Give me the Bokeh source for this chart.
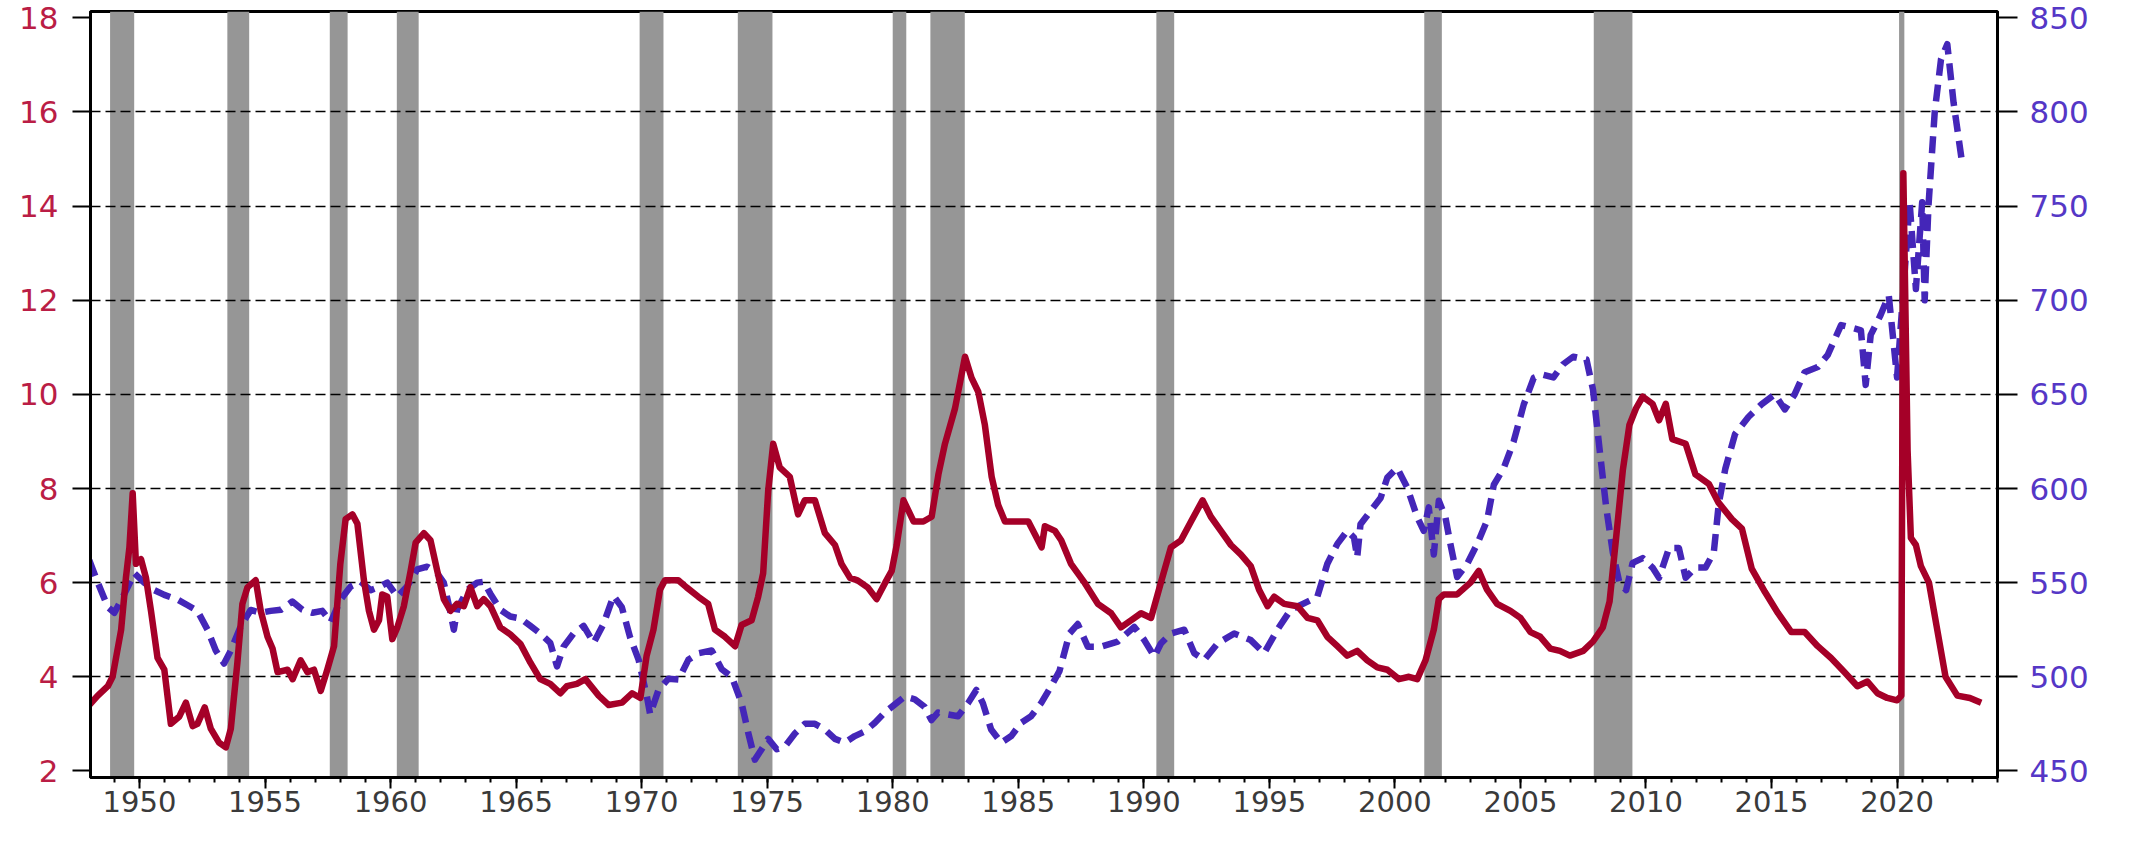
from bokeh.plotting import figure
from bokeh.models import Range1d, LinearAxis, FixedTicker, SingleIntervalTicker, BoxAnnotation
from bokeh.embed import file_html
from bokeh.resources import INLINE

# ---------------- data ----------------
left_ticks = [2, 4, 6, 8, 10, 12, 14, 16, 18]
right_ticks = [450, 500, 550, 600, 650, 700, 750, 800, 850]
grid_levels = [4, 6, 8, 10, 12, 14, 16]

rec_start = [1948.83, 1953.50, 1957.58, 1960.25, 1969.92, 1973.83, 1980.00, 1981.50,
             1990.50, 2001.17, 2007.92, 2020.08]
rec_end = [1949.79, 1954.37, 1958.29, 1961.12, 1970.87, 1975.21, 1980.54, 1982.87,
           1991.21, 2001.87, 2009.46, 2020.29]

unemp_year = [
    1948.00, 1948.34, 1948.74, 1948.93, 1949.27, 1949.46, 1949.60, 1949.73, 1949.86, 1950.06,
    1950.26, 1950.46, 1950.72, 1950.99, 1951.25, 1951.58, 1951.85, 1952.12, 1952.31, 1952.60,
    1952.84, 1953.17, 1953.44, 1953.64, 1953.90, 1954.10, 1954.30, 1954.63, 1954.83, 1955.10,
    1955.30, 1955.50, 1955.90, 1956.10, 1956.42, 1956.69, 1956.95, 1957.22, 1957.48, 1957.75,
    1958.00, 1958.21, 1958.48, 1958.68, 1958.94, 1959.14, 1959.34, 1959.54, 1959.67, 1959.87,
    1960.07, 1960.27, 1960.53, 1960.80, 1961.00, 1961.33, 1961.59, 1961.86, 1962.12, 1962.39,
    1962.65, 1962.92, 1963.18, 1963.45, 1963.71, 1963.98, 1964.37, 1964.77, 1965.17, 1965.57,
    1965.96, 1966.36, 1966.76, 1967.02, 1967.42, 1967.76, 1968.29, 1968.69, 1969.22, 1969.62,
    1969.95, 1970.20, 1970.47, 1970.73, 1970.93, 1971.46, 1971.79, 1972.26, 1972.65, 1972.92,
    1973.32, 1973.72, 1973.98, 1974.38, 1974.64, 1974.84, 1975.04, 1975.24, 1975.50, 1975.90,
    1976.23, 1976.50, 1976.90, 1977.30, 1977.70, 1977.96, 1978.30, 1978.60, 1979.00, 1979.36,
    1979.70, 1979.96, 1980.16, 1980.43, 1980.83, 1981.22, 1981.55, 1981.82, 1982.08, 1982.48,
    1982.88, 1983.14, 1983.41, 1983.67, 1983.94, 1984.20, 1984.47, 1985.00, 1985.40, 1985.93,
    1986.06, 1986.46, 1986.71, 1987.10, 1987.64, 1988.17, 1988.70, 1989.09, 1989.49, 1989.89,
    1990.29, 1990.68, 1991.08, 1991.48, 1991.88, 1992.34, 1992.67, 1993.07, 1993.47, 1993.86,
    1994.26, 1994.59, 1994.93, 1995.19, 1995.59, 1996.12, 1996.52, 1996.91, 1997.31, 1997.71,
    1998.10, 1998.50, 1998.90, 1999.30, 1999.70, 2000.16, 2000.56, 2000.89, 2001.22, 2001.55,
    2001.75, 2001.95, 2002.48, 2003.01, 2003.34, 2003.67, 2004.07, 2004.60, 2005.00, 2005.40,
    2005.79, 2006.19, 2006.57, 2006.97, 2007.50, 2007.89, 2008.28, 2008.55, 2008.81, 2009.08,
    2009.34, 2009.60, 2009.87, 2010.26, 2010.52, 2010.79, 2011.05, 2011.58, 2011.97, 2012.50,
    2012.89, 2013.42, 2013.82, 2014.21, 2014.74, 2015.26, 2015.79, 2016.32, 2016.84, 2017.37,
    2017.90, 2018.42, 2018.82, 2019.22, 2019.61, 2020.00, 2020.17, 2020.25, 2020.42, 2020.55,
    2020.75, 2020.95, 2021.27, 2021.60, 2021.93, 2022.40, 2022.90, 2023.35]
unemp_rate = [
    3.4, 3.6, 3.8, 4.0, 5.0, 6.1, 6.75, 7.9, 6.4, 6.5,
    6.1, 5.4, 4.4, 4.15, 3.0, 3.15, 3.45, 2.95, 3.0, 3.35,
    2.9, 2.6, 2.5, 2.9, 4.3, 5.55, 5.9, 6.05, 5.4, 4.85,
    4.6, 4.1, 4.15, 3.95, 4.35, 4.1, 4.15, 3.7, 4.15, 4.65,
    6.4, 7.35, 7.45, 7.25, 6.05, 5.4, 5.0, 5.2, 5.75, 5.7,
    4.8, 5.05, 5.5, 6.25, 6.85, 7.05, 6.9, 6.25, 5.65, 5.4,
    5.55, 5.5, 5.9, 5.5, 5.65, 5.5, 5.05, 4.9, 4.7, 4.3,
    3.95, 3.85, 3.65, 3.8, 3.85, 3.95, 3.6, 3.4, 3.45, 3.65,
    3.55, 4.45, 5.0, 5.85, 6.05, 6.05, 5.9, 5.7, 5.55, 5.0,
    4.85, 4.65, 5.1, 5.2, 5.7, 6.2, 7.95, 8.95, 8.45, 8.25,
    7.45, 7.75, 7.75, 7.05, 6.8, 6.4, 6.1, 6.05, 5.9, 5.65,
    6.0, 6.25, 6.8, 7.75, 7.3, 7.3, 7.4, 8.3, 8.95, 9.7,
    10.8, 10.35, 10.05, 9.35, 8.25, 7.65, 7.3, 7.3, 7.3, 6.75,
    7.2, 7.1, 6.9, 6.4, 6.0, 5.55, 5.35, 5.05, 5.2, 5.35,
    5.25, 6.0, 6.75, 6.9, 7.3, 7.75, 7.4, 7.1, 6.8, 6.6,
    6.35, 5.85, 5.5, 5.7, 5.55, 5.5, 5.25, 5.2, 4.85, 4.65,
    4.45, 4.55, 4.35, 4.2, 4.15, 3.95, 4.0, 3.95, 4.35, 5.0,
    5.65, 5.75, 5.75, 6.0, 6.25, 5.85, 5.55, 5.4, 5.25, 4.95,
    4.85, 4.6, 4.55, 4.45, 4.55, 4.75, 5.05, 5.6, 6.95, 8.4,
    9.35, 9.7, 9.95, 9.8, 9.45, 9.8, 9.05, 8.95, 8.3, 8.1,
    7.7, 7.35, 7.15, 6.3, 5.8, 5.35, 4.95, 4.95, 4.65, 4.4,
    4.1, 3.8, 3.9, 3.65, 3.55, 3.5, 3.6, 14.7, 8.8, 6.95,
    6.8, 6.35, 6.0, 5.0, 4.0, 3.6, 3.55, 3.45]

nw_year = [
    1948.00, 1948.34, 1948.74, 1949.00, 1949.40, 1949.80, 1950.19, 1950.59, 1950.99, 1951.52,
    1951.92, 1952.31, 1952.71, 1953.04, 1953.37, 1953.64, 1954.04, 1954.43, 1954.83, 1955.23,
    1955.63, 1956.09, 1956.49, 1956.89, 1957.28, 1957.62, 1958.01, 1958.41, 1958.81, 1959.21,
    1959.60, 1959.87, 1960.27, 1960.66, 1961.06, 1961.46, 1961.86, 1962.12, 1962.39, 1962.52,
    1962.65, 1963.05, 1963.45, 1963.71, 1963.98, 1964.37, 1964.77, 1965.17, 1965.57, 1965.96,
    1966.36, 1966.63, 1966.89, 1967.29, 1967.69, 1968.09, 1968.48, 1968.88, 1969.21, 1969.54,
    1969.88, 1970.21, 1970.34, 1970.67, 1971.07, 1971.47, 1971.86, 1972.26, 1972.79, 1973.19,
    1973.59, 1973.98, 1974.25, 1974.51, 1974.78, 1975.04, 1975.38, 1975.71, 1976.11, 1976.50,
    1976.90, 1977.30, 1977.70, 1978.09, 1978.49, 1978.89, 1979.29, 1979.68, 1980.15, 1980.48,
    1980.88, 1981.27, 1981.54, 1981.80, 1982.20, 1982.60, 1983.00, 1983.33, 1983.59, 1983.92,
    1984.32, 1984.72, 1985.12, 1985.51, 1985.91, 1986.31, 1986.64, 1987.04, 1987.37, 1987.77,
    1988.30, 1988.96, 1989.62, 1990.02, 1990.42, 1990.68, 1991.08, 1991.61, 1992.01, 1992.41,
    1992.94, 1993.60, 1994.26, 1994.79, 1995.32, 1995.85, 1996.38, 1996.91, 1997.31, 1997.71,
    1998.10, 1998.37, 1998.50, 1998.63, 1999.03, 1999.43, 1999.70, 2000.09, 2000.49, 2000.89,
    2001.15, 2001.35, 2001.55, 2001.75, 2002.01, 2002.21, 2002.48, 2002.88, 2003.28, 2003.67,
    2003.94, 2004.34, 2004.73, 2005.13, 2005.53, 2005.86, 2006.31, 2006.70, 2007.10, 2007.63,
    2007.89, 2008.15, 2008.42, 2008.68, 2008.94, 2009.21, 2009.47, 2009.87, 2010.26, 2010.52,
    2010.92, 2011.31, 2011.58, 2011.97, 2012.37, 2012.70, 2012.90, 2013.16, 2013.55, 2014.08,
    2014.60, 2015.13, 2015.53, 2015.92, 2016.32, 2016.84, 2017.24, 2017.77, 2018.16, 2018.56,
    2018.75, 2018.95, 2019.34, 2019.67, 2020.00, 2020.25, 2020.50, 2020.75, 2021.00, 2021.10,
    2021.25, 2021.50, 2021.75, 2022.00, 2022.25, 2022.58]
nw_ratio = [
    562, 550, 537, 534, 544, 555, 550, 546, 543.5, 541,
    538, 535, 525, 514, 507, 514, 527, 535.5, 534, 535,
    535.6, 540, 535.6, 534, 535, 529, 541, 548, 550.5, 546,
    548, 550, 542.5, 548, 557, 558.5, 555, 550, 534, 525,
    535.6, 546, 550, 550.5, 544, 535.6, 532, 531, 527, 523,
    518, 505.5, 516, 523, 527, 518, 528, 543, 537, 521,
    509, 489.5, 480, 493, 499, 498.5, 509, 512.5, 514, 504,
    500, 486, 470, 456, 461.5, 467, 461.5, 463, 470, 475,
    475, 472, 467, 465, 468.5, 471, 475.6, 481, 486, 489.5,
    488, 484, 477, 481, 480, 479, 486, 493, 486, 472,
    465, 468.5, 475.6, 479, 486, 495, 503, 523, 528, 516,
    516, 518.7, 526.5, 519.5, 510.7, 517.7, 523, 525, 512.5, 509,
    517.7, 523, 519.5, 512.5, 525, 535.6, 539, 542.5, 560, 570.6,
    577.5, 574, 563.5, 581, 588, 595, 605.8, 611, 600.5, 584.8,
    577.5, 590, 565, 593.5, 584.8, 570.6, 553, 560, 570.6, 583,
    602, 611, 625, 644.5, 658.8, 660.6, 659, 666, 670, 668.5,
    652.5, 621, 589.5, 566, 550, 546, 560.5, 563, 558, 552.6,
    568.4, 568.4, 552.6, 558, 558, 566, 592, 610.5, 629, 638,
    644.7, 650, 642, 650, 661.8, 664.5, 671, 686.8, 685.5, 684,
    655, 681.6, 692, 702.5, 659, 705, 752, 706, 752, 700,
    750, 800, 828, 836, 805, 774]

# ---------------- figure ----------------
Y0, Y1 = 1.86, 18.135
FONT = "DejaVu Sans"
YSIZE = "31px"
XSIZE = "29px"

p = figure(width=2122, height=825, output_backend="svg", toolbar_location=None,
           x_range=Range1d(1948.05, 2024.0), y_range=Range1d(Y0, Y1),
           min_border_left=90, min_border_right=125, min_border_top=11, min_border_bottom=48)
p.extra_y_ranges = {"right": Range1d(450 + (Y0 - 2) * 25, 450 + (Y1 - 2) * 25)}

p.background_fill_color = "white"
p.border_fill_color = "white"
p.outline_line_color = "black"
p.outline_line_width = 3
p.outline_line_alpha = 1.0

# recession shading
for s, e in zip(rec_start, rec_end):
    p.add_layout(BoxAnnotation(left=s, right=e, fill_color="#969696", fill_alpha=1.0,
                               line_alpha=0, level="image"))

# grid
p.xgrid.visible = False
p.ygrid.ticker = FixedTicker(ticks=grid_levels)
p.ygrid.grid_line_color = "black"
p.ygrid.grid_line_width = 1.7
p.ygrid.grid_line_dash = "10 5"

# lines
p.line(nw_year, nw_ratio, y_range_name="right", line_color="#4426B8", line_width=6.5,
       line_dash="17 9", line_join="round")
p.line(unemp_year, unemp_rate, line_color="#A50028", line_width=6.5, line_join="round")

# bottom axis
xa = p.xaxis[0]
xa.ticker = SingleIntervalTicker(interval=5, num_minor_ticks=5)
xa.axis_line_width = 3
xa.axis_line_color = "black"
xa.major_tick_out = 11
xa.major_tick_in = 0
xa.minor_tick_out = 5
xa.minor_tick_in = 0
xa.major_tick_line_width = 2
xa.minor_tick_line_width = 2
xa.major_tick_line_color = "black"
xa.minor_tick_line_color = "black"
xa.major_label_standoff = 2
xa.major_label_text_font = FONT
xa.major_label_text_font_size = XSIZE
xa.major_label_text_color = "#3a3a3a"

# left axis
ya = p.yaxis[0]
ya.ticker = FixedTicker(ticks=left_ticks)
ya.axis_line_width = 3
ya.axis_line_color = "black"
ya.major_tick_out = 18
ya.major_tick_in = 0
ya.minor_tick_out = 0
ya.minor_tick_in = 0
ya.major_tick_line_width = 2
ya.major_tick_line_color = "black"
ya.major_label_standoff = 14
ya.major_label_text_font = FONT
ya.major_label_text_font_size = YSIZE
ya.major_label_text_color = "#BA1D45"

# right axis
ra = LinearAxis(y_range_name="right", ticker=FixedTicker(ticks=right_ticks))
ra.axis_line_width = 3
ra.axis_line_color = "black"
ra.major_tick_out = 20
ra.major_tick_in = 0
ra.minor_tick_out = 0
ra.minor_tick_in = 0
ra.major_tick_line_width = 2
ra.major_tick_line_color = "black"
ra.major_label_standoff = 12
ra.major_label_text_font = FONT
ra.major_label_text_font_size = YSIZE
ra.major_label_text_color = "#5537C6"
p.add_layout(ra, "right")

open("out.html", "w").write(file_html(p, INLINE))
